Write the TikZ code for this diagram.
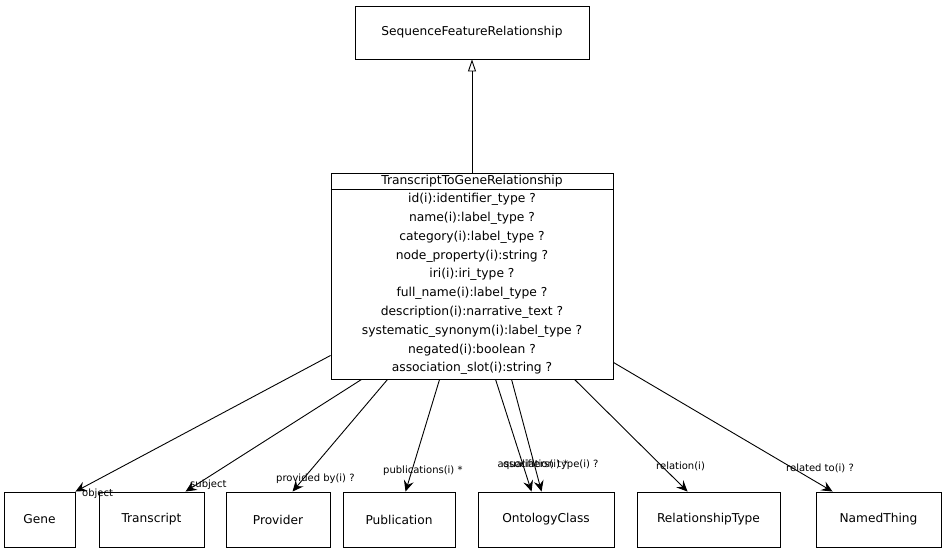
\documentclass[tikz,border=0pt]{standalone}
\usepackage{fontspec}
\setmainfont{DejaVu Sans}
\usetikzlibrary{arrows.meta,calc}
\begin{document}
\begin{tikzpicture}[x=1pt,y=-1pt,
  cls/.style={draw,line width=0.9pt,inner sep=0pt,font=\fontsize{12.2}{14}\selectfont},
  attr/.style={inner sep=0pt,font=\fontsize{12.3}{14}\selectfont},
  lbl/.style={inner sep=0pt,font=\fontsize{10}{12}\selectfont},
  assoc/.style={line width=0.9pt,-{Stealth[length=11pt,width=10pt,inset=4pt]}},
  inh/.style={line width=0.9pt,-{Triangle[open,length=12pt,width=8pt]}}]
\useasboundingbox (0,0) rectangle (946,553);
\fill[white] (0,0) rectangle (946,553);
% classes
\node[cls,minimum width=234,minimum height=53] (sfr) at (472,32.5) {SequenceFeatureRelationship};
\node[cls,minimum width=282,minimum height=206] (tg) at (472,276) {};
\draw[line width=0.9pt] ($(tg.north west)+(0,17)$) -- ($(tg.north east)+(0,17)$);
\node[attr] (hd) at (472,181.5) {TranscriptToGeneRelationship};
\node[attr] (a1) at (472,199.5) {id(i):identifier\_type ?};
\node[attr] (a2) at (472,218.3) {name(i):label\_type ?};
\node[attr] (a3) at (472,237.1) {category(i):label\_type ?};
\node[attr] (a4) at (472,255.9) {node\_property(i):string ?};
\node[attr] (a5) at (472,274.7) {iri(i):iri\_type ?};
\node[attr] (a6) at (472,293.5) {full\_name(i):label\_type ?};
\node[attr] (a7) at (472,312.3) {description(i):narrative\_text ?};
\node[attr] (a8) at (472,331.1) {systematic\_synonym(i):label\_type ?};
\node[attr] (a9) at (472,349.9) {negated(i):boolean ?};
\node[attr] (a10) at (472,368.7) {association\_slot(i):string ?};
\node[cls,minimum width=71,minimum height=55] (gene) at (39.5,519.5) {Gene};
\node[cls,minimum width=105,minimum height=55] (tr) at (151.5,519.5) {Transcript};
\node[cls,minimum width=104,minimum height=55] (prov) at (278,519.5) {Provider};
\node[cls,minimum width=112,minimum height=55] (pub) at (399,519.5) {Publication};
\node[cls,minimum width=136,minimum height=55] (oc) at (546,519.5) {OntologyClass};
\node[cls,minimum width=143,minimum height=55] (rt) at (708.5,519.5) {RelationshipType};
\node[cls,minimum width=125,minimum height=55] (nt) at (878.5,519.5) {NamedThing};
% inheritance
\draw[inh] (tg.north) -- (sfr.south);
% associations
\draw[assoc] ($(tg.south west)+(0,-24)$) -- (gene.north east);
\draw[assoc] ($(tg.south west)+(31,0)$) -- ($(tr.north west)+(87,0)$);
\draw[assoc] ($(tg.south west)+(57,0)$) -- ($(prov.north west)+(67,0)$);
\draw[assoc] ($(tg.south west)+(109,0)$) -- ($(pub.north west)+(63,0)$);
\draw[assoc] ($(tg.south west)+(165,0)$) -- ($(oc.north west)+(54,0)$);
\draw[assoc] ($(tg.south west)+(181,0)$) -- ($(oc.north west)+(64,0)$);
\draw[assoc] ($(tg.south west)+(244,0)$) -- ($(rt.north west)+(51,0)$);
\draw[assoc] ($(tg.south east)+(0,-17)$) -- ($(nt.north west)+(17,0)$);
% labels
\node[lbl,anchor=west] (l1) at (82,494) {object};
\node[lbl,anchor=west] (l2) at (190,485) {subject};
\node[lbl,anchor=west] (l3) at (276,478.5) {provided by(i) ?};
\node[lbl,anchor=west] (l4) at (383,471) {publications(i) *};
\node[lbl,anchor=west] (l5) at (497.5,465) {association type(i) ?};
\node[lbl,anchor=west] (l6) at (503,465) {qualifiers(i) *};
\node[lbl,anchor=west] (l7) at (656,466) {relation(i)};
\node[lbl,anchor=west] (l8) at (786,468.5) {related to(i) ?};
\end{tikzpicture}
\end{document}
